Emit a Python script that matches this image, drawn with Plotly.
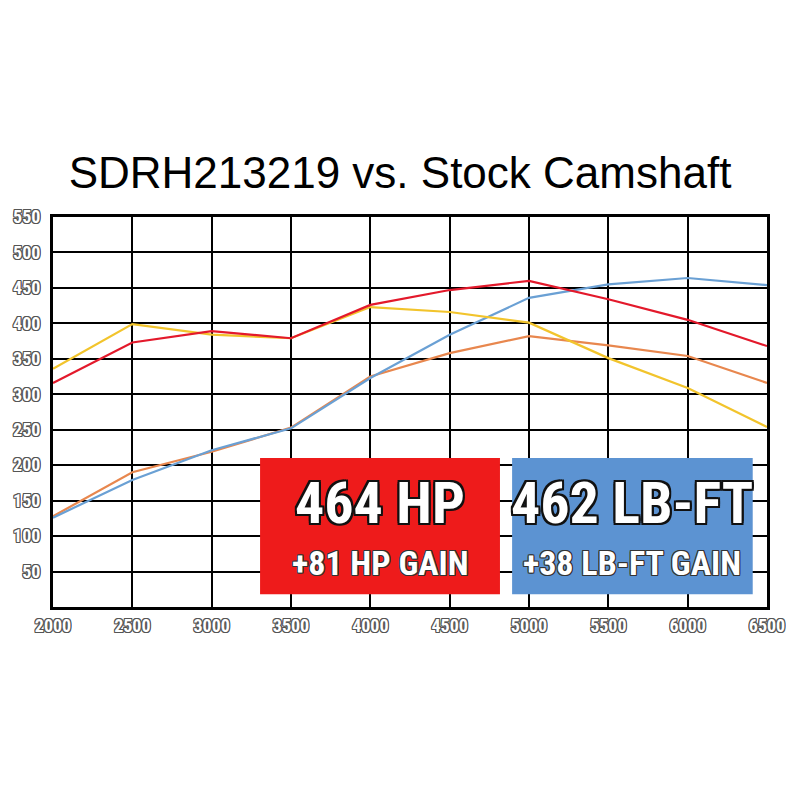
import plotly.graph_objects as go

# Data
RPM          = [2000, 2500, 3000, 3500, 4000, 4500, 5000, 5500, 6000, 6500]
NEW_TORQUE   = [316, 373, 389, 379, 426, 447, 460, 434, 405, 368]
STOCK_TORQUE = [336, 399, 384, 379, 423, 416, 401, 351, 309, 254]
NEW_HP       = [126, 179, 221, 252, 323, 384, 436, 455, 464, 454]
STOCK_HP     = [128, 190, 219, 253, 325, 358, 382, 369, 354, 316]

Y_TICKS = list(range(50, 551, 50))
X_TICKS = list(range(2000, 6501, 500))

TITLE   = "SDRH213219 vs. Stock Camshaft"
HP_BIG  = "464 HP"
HP_GAIN = "+81 HP GAIN"
TQ_BIG  = "462 LB-FT"
TQ_GAIN = "+38 LB-FT GAIN"

# Styling
COLORS = {
    "new_tq": "#e3192b",
    "stock_tq": "#f2c42c",
    "new_hp": "#6aa0d4",
    "stock_hp": "#e8874e",
}
BOX_RED  = "#ee1b1b"
BOX_BLUE = "#5c93d2"

NARROW  = "Roboto Condensed, DejaVu Sans Condensed, sans-serif"
OUTLINE = ("1px 1px 0 #333, -1px -1px 0 #333, 1px -1px 0 #333, -1px 1px 0 #333, "
           "0 1px 0 #333, 0 -1px 0 #333, 1px 0 0 #333, -1px 0 0 #333")
TICK_OUTLINE = ("1px 1px 0 #555, -1px -1px 0 #555, 1px -1px 0 #555, -1px 1px 0 #555, "
                "0 1px 0 #555, 0 -1px 0 #555, 1px 0 0 #555, -1px 0 0 #555")
OUTLINE_BIG = ("2px 2px 0 #111, -2px -2px 0 #111, 2px -2px 0 #111, -2px 2px 0 #111, "
               "0 2px 0 #111, 0 -2px 0 #111, 2px 0 0 #111, -2px 0 0 #111")

fig = go.Figure()

for name, ys, key in [
    ("Stock HP", STOCK_HP, "stock_hp"),
    ("SDRH HP", NEW_HP, "new_hp"),
    ("Stock Torque", STOCK_TORQUE, "stock_tq"),
    ("SDRH Torque", NEW_TORQUE, "new_tq"),
]:
    fig.add_trace(go.Scatter(
        x=RPM, y=ys, mode="lines", name=name,
        line=dict(color=COLORS[key], width=2.2),
    ))

# Callout boxes (paper coords)
BOXES = [
    (0.290, 0.626, BOX_RED, HP_BIG, HP_GAIN),
    (0.643, 0.980, BOX_BLUE, TQ_BIG, TQ_GAIN),
]
for x0, x1, col, big, small in BOXES:
    fig.add_shape(type="rect", xref="paper", yref="paper",
                  x0=x0, x1=x1, y0=0.033, y1=0.382,
                  fillcolor=col, line_width=0, layer="above")
    xc = (x0 + x1) / 2
    fig.add_annotation(xref="paper", yref="paper", x=xc, y=0.267,
                       xanchor="center", yanchor="middle",
                       text=f"<b>{big}</b>", showarrow=False,
                       font=dict(family=NARROW, size=58, color="white",
                                 shadow=OUTLINE_BIG))
    fig.add_annotation(xref="paper", yref="paper", x=xc, y=0.113,
                       xanchor="center", yanchor="middle",
                       text=f"<b>{small}</b>", showarrow=False,
                       font=dict(family=NARROW, size=34, color="white",
                                 shadow=OUTLINE))

fig.update_layout(
    width=800, height=800,
    margin=dict(l=53, r=33, t=217, b=193),
    paper_bgcolor="white", plot_bgcolor="white",
    showlegend=False,
    title=dict(text=TITLE, x=0.5, xanchor="center", y=0.765, yanchor="bottom",
               font=dict(family="Liberation Sans, Arial, sans-serif", size=44, color="black")),
)

tick_font = dict(family=NARROW, size=18, color="white", weight="bold", shadow=TICK_OUTLINE)

fig.update_xaxes(
    range=[2000, 6500], tickvals=X_TICKS, ticktext=[str(t) for t in X_TICKS],
    showgrid=True, gridcolor="black", gridwidth=2,
    showline=True, linecolor="black", linewidth=3, mirror=True,
    ticks="", tickfont=tick_font, zeroline=False,
)
fig.update_yaxes(
    range=[0, 550], tickvals=Y_TICKS, ticktext=[str(t) for t in Y_TICKS],
    showgrid=True, gridcolor="black", gridwidth=2,
    showline=True, linecolor="black", linewidth=3, mirror=True,
    ticks="", tickfont=tick_font, zeroline=False, ticklabelstandoff=6,
)

fig.write_html("out.html", config={"displayModeBar": False},
               post_script="document.body.style.margin='0';")
